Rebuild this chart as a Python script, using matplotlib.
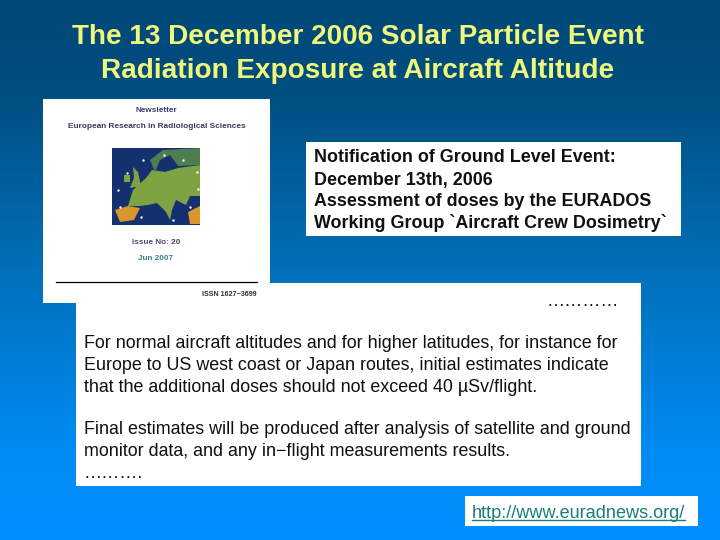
"""Slide: 13 December 2006 solar particle event, drawn in pixel coordinates."""
import numpy as np
import matplotlib
matplotlib.use("Agg")
import matplotlib.pyplot as plt
from matplotlib.patches import Rectangle, Polygon

plt.rcParams["font.family"] = ["Liberation Sans", "DejaVu Sans"]

TITLE_LINES = ["The 13 December 2006 Solar Particle Event",
               "Radiation Exposure at Aircraft Altitude"]
NOTICE_LINES = ["Notification of Ground Level Event:", "December 13th, 2006",
                "Assessment of doses by the EURADOS",
                "Working Group `Aircraft Crew Dosimetry`"]
BODY_LINES = ["For normal aircraft altitudes and for higher latitudes, for instance for",
              "Europe to US west coast or Japan routes, initial estimates indicate",
              "that the additional doses should not exceed 40 µSv/flight.",
              "",
              "Final estimates will be produced after analysis of satellite and ground",
              "monitor data, and any in−flight measurements results."]
URL = "http://www.euradnews.org/"

fig = plt.figure(figsize=(7.2, 5.4), dpi=100)
ax = fig.add_axes([0, 0, 1, 1])
ax.set_xlim(0, 720)
ax.set_ylim(540, 0)
ax.axis("off")

# background gradient, dark at the top, flat bright blue near the bottom
rows = np.arange(540)
green = np.interp(rows, [0, 90, 270, 450, 540], [72, 78, 112, 140, 144])
blue = np.interp(rows, [0, 90, 270, 450, 540], [120, 128, 185, 245, 255])
grad = np.dstack([np.zeros(540), green, blue])[:, None, :].reshape(540, 1, 3) / 255
ax.imshow(grad, extent=[0, 720, 540, 0], aspect="auto", zorder=0)


def box(x0, y0, x1, y1, color="white", z=1):
    ax.add_patch(Rectangle((x0, y0), x1 - x0, y1 - y0, fc=color, ec="none", zorder=z))


def land(points, color):
    ax.add_patch(Polygon(points, fc=color, ec="none", zorder=3))


for y, s in zip((37, 71), TITLE_LINES):
    ax.text(357.5, y, s, color="#f0f87c", fontsize=20.1, fontweight="bold", ha="center", va="center")

# newsletter cover
box(43, 99, 270, 303)
ax.text(156, 111, "Newsletter", fontsize=5.9, fontweight="bold", color="#3a3a70", ha="center", va="center", zorder=4)
ax.text(156.5, 126.5, "European Research in Radiological Sciences", fontsize=5.95, fontweight="bold",
        color="#3a3a60", ha="center", va="center", zorder=4)
box(112, 148, 200, 225, "#14306e", 2)
land([(133, 190), (146, 178), (152, 170), (165, 172), (178, 168), (200, 165), (200, 196), (190, 196),
      (186, 205), (176, 200), (172, 210), (170, 220), (166, 212), (157, 203), (148, 205), (140, 206), (128, 206)],
     "#7fa243")
land([(150, 160), (163, 150), (200, 148), (200, 165), (178, 166), (170, 155), (160, 160), (155, 172)], "#4f7d50")
land([(133, 167), (138, 172), (141, 186), (130, 188), (134, 178)], "#7fa243")
land([(124, 175), (130, 175), (130, 182), (124, 182)], "#7fa243")
land([(115, 210), (128, 206), (140, 208), (134, 220), (120, 222)], "#d8962c")
land([(188, 212), (200, 206), (200, 224), (190, 224)], "#d8962c")
ax.scatter([143, 164, 183, 127, 118, 120, 141, 190, 173, 197, 198],
           [160, 155, 160, 173, 190, 207, 217, 207, 220, 172, 189], s=3, c="white", lw=0, zorder=5)
ax.text(156, 243, "Issue No: 20", fontsize=5.9, fontweight="bold", color="#4a4a78", ha="center", va="center", zorder=4)
ax.text(156, 258, "Jun 2007", fontsize=5.9, fontweight="bold", color="#3a8088", ha="center", va="center", zorder=4)
ax.plot([56, 257], [282, 282], color="black", lw=0.9, zorder=3)
ax.text(257, 295, "ISSN 1627−3699", fontsize=5.1, fontweight="bold", color="#333333", ha="right", va="center", zorder=4)

# notice box
box(306, 142, 681, 236)
for y, s in zip((158, 180, 201.5, 223), NOTICE_LINES):
    ax.text(313.5, y, s, fontsize=12.9, fontweight="bold", color="#101010", ha="left", va="center", zorder=3)

# main text box
box(76, 283, 641, 486, z=2)
ax.text(619, 302, "…………", fontsize=13, color="#101010", ha="right", va="center", zorder=3)
for y, s in zip((343.5, 365.5, 387, 408, 429.5, 451.5), BODY_LINES):
    ax.text(84, y, s, fontsize=12.85, color="#101010", ha="left", va="center", zorder=3)
ax.text(84, 473, "……….", fontsize=13, color="#101010", ha="left", va="center", zorder=3)

# link
box(465, 496, 698, 526)
ax.text(472, 513, URL, fontsize=13.1, color="#1a7f78", ha="left", va="center", zorder=3)
ax.plot([472, 685], [520, 520], color="#1a7f78", lw=1, zorder=3)

fig.savefig("out.png", dpi=100)
